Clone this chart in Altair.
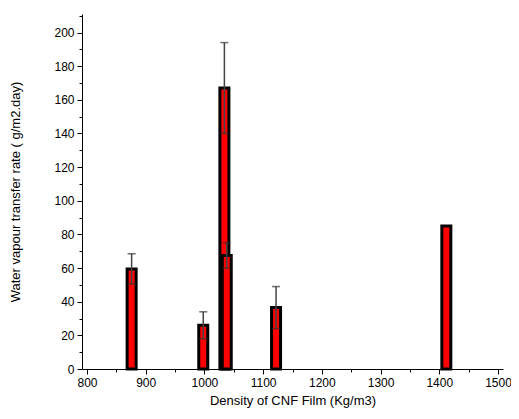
import altair as alt
import pandas as pd

density = [876, 998, 1034, 1038, 1122, 1412]
wvtr = [59.5, 26.0, 167.0, 67.5, 36.5, 85.0]
err = [9.0, 8.0, 27.0, 7.5, 12.5, 0.0]

df = pd.DataFrame({"x": density, "y": wvtr, "e": err})
df["lo"] = df["y"] - df["e"]
df["hi"] = df["y"] + df["e"]
dfe = df[df["e"] > 0]

font = "Liberation Sans"

xscale = alt.Scale(domain=[800, 1500], nice=False)
yscale = alt.Scale(domain=[0, 211], nice=False)

xaxis = alt.Axis(
    title="Density of CNF Film (Kg/m3)",
    values=list(range(800, 1501, 50)),
    format="d",
    labelExpr="datum.value % 100 === 0 ? datum.label : ''",
    tickSize={"condition": {"test": "datum.value % 100 === 0", "value": 5}, "value": 3},
    grid=False, domainColor="black", tickColor="black",
    labelFont=font, labelFontSize=12, labelColor="black", labelPadding=3,
    labelOverlap=False, labelFlush=False, labelBound=False,
    titleFont=font, titleFontSize=13, titleFontWeight="normal", titleColor="black",
    titlePadding=6,
)
yaxis = alt.Axis(
    title="Water vapour transfer rate ( g/m2.day)",
    values=list(range(0, 211, 10)),
    format="d",
    labelExpr="datum.value % 20 === 0 ? datum.label : ''",
    tickSize={"condition": {"test": "datum.value % 20 === 0", "value": 5}, "value": 3},
    grid=False, domainColor="black", tickColor="black",
    labelFont=font, labelFontSize=12, labelColor="black", labelPadding=3,
    labelOverlap=False, labelFlush=False, labelBound=False,
    titleFont=font, titleFontSize=13, titleFontWeight="normal", titleColor="black",
    titlePadding=31,
)

X = alt.X("x:Q", scale=xscale, axis=xaxis)

bars = alt.Chart(df).mark_bar(
    size=9, color="#ff0000", stroke="black", strokeWidth=3
).encode(
    x=X,
    y=alt.Y("y:Q", scale=yscale, axis=yaxis),
)

rules = alt.Chart(dfe).mark_rule(color="#444444", strokeWidth=1.5).encode(
    x=X, y=alt.Y("lo:Q", scale=yscale, axis=yaxis), y2="hi:Q"
)
cap_hi = alt.Chart(dfe).mark_tick(color="#333333", thickness=1.5, size=8, orient="horizontal").encode(
    x=X, y=alt.Y("hi:Q", scale=yscale, axis=yaxis)
)
cap_lo = alt.Chart(dfe).mark_tick(color="#333333", thickness=1.5, size=8, orient="horizontal").encode(
    x=X, y=alt.Y("lo:Q", scale=yscale, axis=yaxis)
)

chart = alt.layer(bars, rules, cap_hi, cap_lo).properties(
    width=421, height=355,
    background="white",
    autosize=alt.AutoSizeParams(type="none"),
    padding={"left": 74, "top": 6, "right": 8, "bottom": 42},
).configure_view(stroke="transparent", strokeWidth=0)

chart.save("out.html", embed_options={"renderer": "svg", "actions": False})
